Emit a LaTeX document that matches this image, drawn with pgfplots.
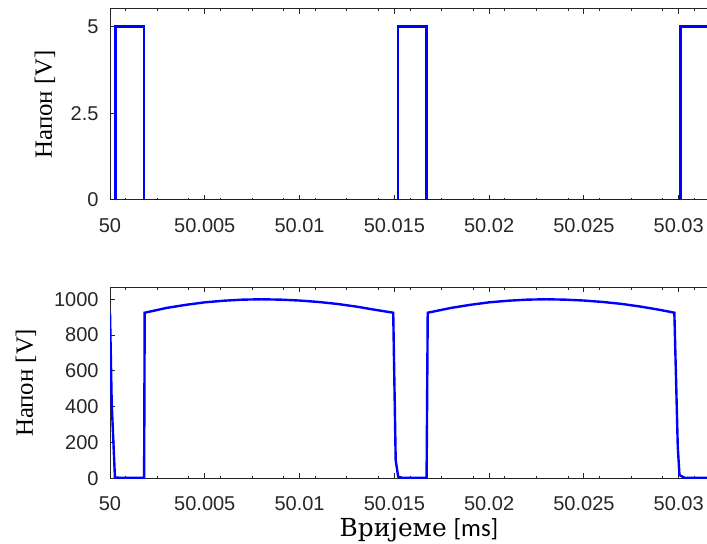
\documentclass[border=0pt]{standalone}
\usepackage{fontspec}
\setmainfont{Liberation Sans}
\newfontfamily\lserif{Liberation Serif}
\newfontfamily\dserif{DejaVu Serif}
\newfontfamily\carl{Carlito}
\usepackage{pgfplots}
\pgfplotsset{compat=1.18}
\definecolor{axgray}{RGB}{38,38,38}
\pgfplotsset{
  mystyle/.style={
    scale only axis, width=309pt, height=95.5pt,
    xmin=0, xmax=32.6,
    xtick={0,5,10,15,20,25,30},
    xticklabels={50,50.005,50.01,50.015,50.02,50.025,50.03},
    minor xtick={0.8333,2.5,4.1667,5.8333,7.5,9.1667,10.8333,12.5,14.1667,15.8333,17.5,19.1667,20.8333,22.5,24.1667,25.8333,27.5,29.1667,30.8333,32.5},
    tick align=inside,
    major tick length=2.5pt, minor tick length=1.2pt,
    axis line style={axgray, line width=0.5pt},
    tick style={axgray, line width=0.5pt},
    /pgf/number format/assume math mode=true,
    tick label style={font=\fontsize{10}{11}\selectfont, text=axgray},
    xticklabel style={yshift=-5.7pt},
    yticklabel style={xshift=-2.2pt},
    ylabel style={font=\lserif\fontsize{12.4}{14}\selectfont, anchor=base, text=black},
  }
}
\begin{document}
\begin{tikzpicture}
\useasboundingbox (0,0) rectangle (353.5pt,-272pt);
\clip (0,0) rectangle (353.5pt,-272pt);
\begin{axis}[mystyle, at={(55pt,-100pt)}, anchor=south west,
  ymin=0, ymax=5.5, ytick={0,2.5,5}, yticklabels={0,2.5,5},
  ylabel={Напон [V]},
  ylabel style={at={(axis description cs:-0.0939,0.5)}}]
\addplot[blue, line width=1.2pt] coordinates {
(0,0) (0.3,0) (0.3,5) (1.8,5) (1.8,0) (15.2,0) (15.2,5) (16.7,5) (16.7,0) (30.1,0) (30.1,5) (32.6,5)};
\end{axis}
\begin{axis}[mystyle, at={(55pt,-239.15pt)}, anchor=south west,
  ymin=0, ymax=1067, ytick={0,200,400,600,800,1000}, yticklabels={0,200,400,600,800,1000},
  ylabel={Напон [V]},
  ylabel style={at={(axis description cs:-0.1246,0.5)}},
  xlabel={{\dserif Вријеме} {\carl[ms]}},
  xlabel style={font=\fontsize{12.4}{14}\selectfont, at={(axis description cs:0.5,0)}, anchor=base, yshift=-29.35pt, text=black}]
\addplot[blue, line width=1.2pt] coordinates {
(0,925) (0.09,420) (0.26,5) (0.5,3) (1.8,3)
(1.83,925) (3.0,952) (4.0,969) (5.0,983) (6.0,992) (7.0,998) (8.0,1000) (9.0,998) (10.0,993) (11.0,985) (12.0,974) (13.0,959) (14.0,941) (14.94,925)
(15.07,102) (15.2,9) (15.4,3) (16.7,3)
(16.76,925) (18,952) (19,969) (20,983) (21,992) (22,998) (23,1000) (24,998) (25,993) (26,985) (27,974) (28,959) (29,941) (29.77,925)
(29.95,176) (30.04,18) (30.3,3) (32.6,3)};
\end{axis}
\end{tikzpicture}
\end{document}
